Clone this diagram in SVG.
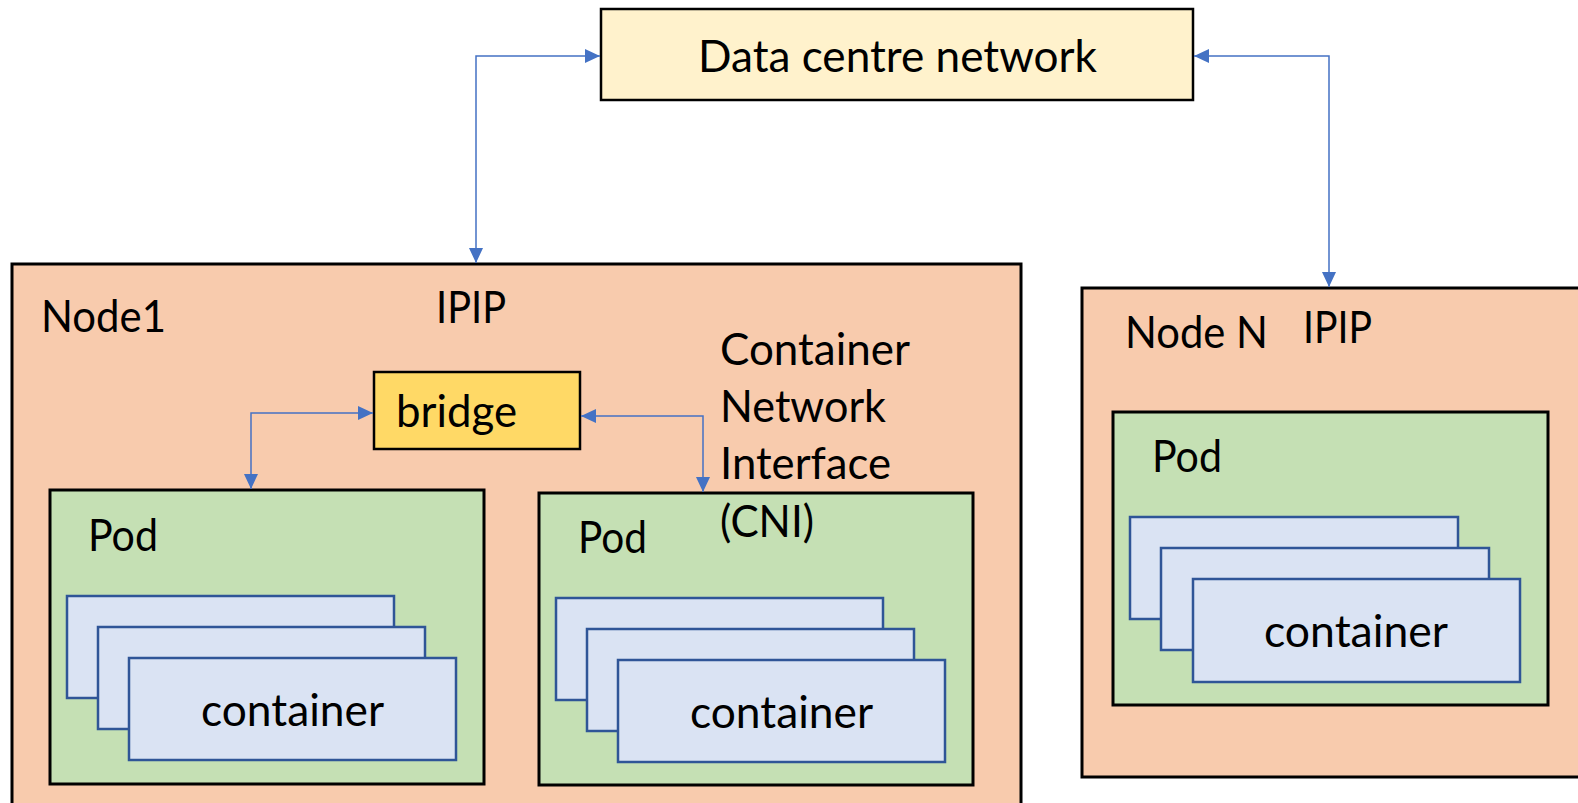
<svg xmlns="http://www.w3.org/2000/svg" width="1578" height="803" viewBox="0 0 1578 803">
  <defs>
    <marker id="arrow" markerUnits="userSpaceOnUse" markerWidth="15" markerHeight="14" refX="15" refY="7" orient="auto-start-reverse">
      <path d="M0,0 L15,7 L0,14 Z" fill="#4472C4"/>
    </marker>
    <style>
      text { font-family: Lato, "Open Sans", "Liberation Sans", sans-serif; font-size: 44px; fill: #000; }
      .node { fill: #F8CBAD; stroke: #000; stroke-width: 3; }
      .dc { fill: #FFF2CC; stroke: #000; stroke-width: 2.5; }
      .bridge { fill: #FFD966; stroke: #000; stroke-width: 2.5; }
      .pod { fill: #C5E0B4; stroke: #000; stroke-width: 3; }
      .ctr { fill: #DAE3F3; stroke: #2F5597; stroke-width: 2.5; }
      .link { fill: none; stroke: #4472C4; stroke-width: 1.5; marker-start: url(#arrow); marker-end: url(#arrow); }
    </style>
  </defs>
  <rect width="1578" height="803" fill="#fff"/>

  <!-- Data centre network -->
  <g id="dc-network">
    <rect class="dc" x="601" y="9" width="592" height="91"/>
    <text x="698" y="72" textLength="399" lengthAdjust="spacingAndGlyphs">Data centre network</text>
  </g>

  <!-- Node1 -->
  <g id="node1">
    <rect class="node" x="12" y="264" width="1009" height="560"/>
    <text x="41" y="332" textLength="125" lengthAdjust="spacingAndGlyphs">Node1</text>
    <text x="436" y="323" textLength="70" lengthAdjust="spacingAndGlyphs">IPIP</text>
    <text x="720" y="365" textLength="190" lengthAdjust="spacingAndGlyphs">Container</text>
    <text x="720" y="422" textLength="166" lengthAdjust="spacingAndGlyphs">Network</text>
    <text x="720" y="479" textLength="171" lengthAdjust="spacingAndGlyphs">Interface</text>
  </g>

  <g id="bridge">
    <rect class="bridge" x="374" y="372" width="206" height="77"/>
    <text x="396" y="427" textLength="121" lengthAdjust="spacingAndGlyphs">bridge</text>
  </g>

  <g id="node1-pod1">
    <rect class="pod" x="50" y="490" width="434" height="294"/>
    <text x="88" y="551" textLength="70" lengthAdjust="spacingAndGlyphs">Pod</text>
    <rect class="ctr" x="67" y="596" width="327" height="102"/>
    <rect class="ctr" x="98" y="627" width="327" height="102"/>
    <rect class="ctr" x="129" y="658" width="327" height="102"/>
    <text x="201" y="726" textLength="183" lengthAdjust="spacingAndGlyphs">container</text>
  </g>

  <g id="node1-pod2">
    <rect class="pod" x="539" y="493" width="434" height="292"/>
    <text x="578" y="553" textLength="69" lengthAdjust="spacingAndGlyphs">Pod</text>
    <rect class="ctr" x="556" y="598" width="327" height="102"/>
    <rect class="ctr" x="587" y="629" width="327" height="102"/>
    <rect class="ctr" x="618" y="660" width="327" height="102"/>
    <text x="690" y="728" textLength="183" lengthAdjust="spacingAndGlyphs">container</text>
  </g>

  <g id="cni-label">
    <text x="720" y="537" textLength="94" lengthAdjust="spacingAndGlyphs">(CNI)</text>
  </g>

  <!-- Node N -->
  <g id="nodeN">
    <rect class="node" x="1082" y="288" width="520" height="489"/>
    <text x="1125" y="348" textLength="143" lengthAdjust="spacingAndGlyphs">Node N</text>
    <text x="1303" y="343" textLength="69" lengthAdjust="spacingAndGlyphs">IPIP</text>
  </g>

  <g id="nodeN-pod">
    <rect class="pod" x="1113" y="412" width="435" height="293"/>
    <text x="1152" y="472" textLength="70" lengthAdjust="spacingAndGlyphs">Pod</text>
    <rect class="ctr" x="1130" y="517" width="328" height="102"/>
    <rect class="ctr" x="1161" y="548" width="328" height="102"/>
    <rect class="ctr" x="1193" y="579" width="327" height="103"/>
    <text x="1264" y="647" textLength="184" lengthAdjust="spacingAndGlyphs">container</text>
  </g>

  <!-- Connectors -->
  <g id="connectors">
    <polyline class="link" points="600,56 476,56 476,263"/>
    <polyline class="link" points="1194,56 1329,56 1329,287"/>
    <polyline class="link" points="373,413 251,413 251,489"/>
    <polyline class="link" points="581,416 703,416 703,492"/>
  </g>
</svg>
